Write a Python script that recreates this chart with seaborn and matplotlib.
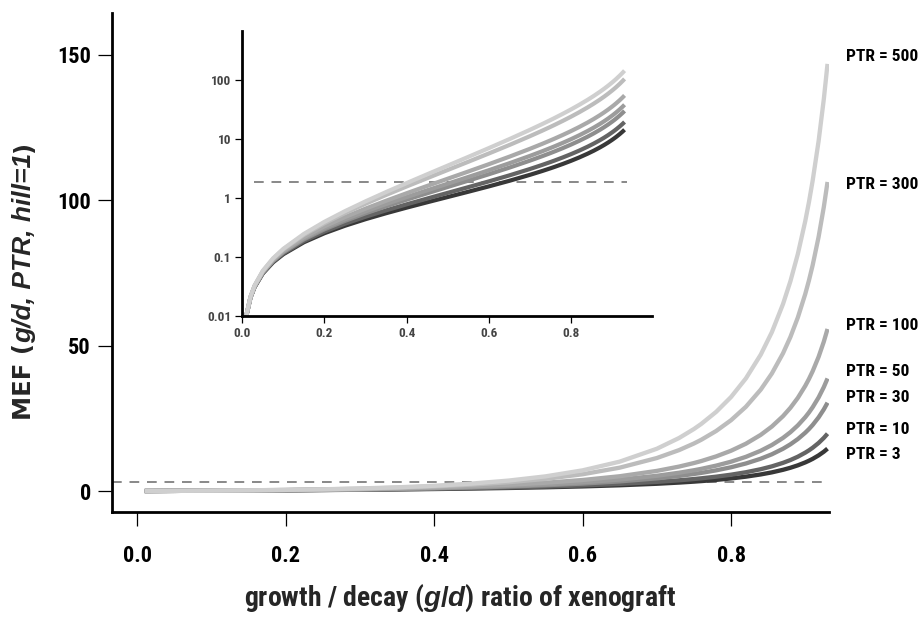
import numpy as np
import pandas as pd
import matplotlib
matplotlib.use("Agg")
import matplotlib.pyplot as plt
from matplotlib.font_manager import FontProperties
import seaborn as sns

# ---- data ----
gd_ratio = [0.01, 0.02, 0.03, 0.05, 0.075, 0.1, 0.15, 0.2, 0.25, 0.3, 0.35, 0.4, 0.45, 0.5,
            0.55, 0.6, 0.65, 0.7, 0.73, 0.75, 0.76, 0.78, 0.8, 0.82, 0.84, 0.855, 0.87, 0.88,
            0.89, 0.9, 0.905, 0.91, 0.918, 0.925, 0.93]
mef_ptr3 = [0.0101, 0.02045, 0.03102, 0.05289, 0.08168, 0.1122, 0.1791, 0.255, 0.3417, 0.4415,
            0.5575, 0.6937, 0.8557, 1.051, 1.291, 1.592, 1.981, 2.502, 2.908, 3.233, 3.416,
            3.832, 4.332, 4.944, 5.709, 6.421, 7.299, 8.006, 8.841, 9.845, 10.43, 11.07,
            12.27, 13.52, 14.58]
mef_ptr10 = [0.01014, 0.02058, 0.03131, 0.05372, 0.08362, 0.1158, 0.1878, 0.2717, 0.37, 0.486,
             0.6238, 0.7892, 0.9897, 1.236, 1.544, 1.936, 2.449, 3.144, 3.69, 4.129, 4.377,
             4.942, 5.624, 6.459, 7.506, 8.484, 9.69, 10.66, 11.81, 13.2, 14.0, 14.89,
             16.54, 18.27, 19.72]
mef_ptr30 = [0.01018, 0.02075, 0.0317, 0.05485, 0.0863, 0.1208, 0.2003, 0.2964, 0.4132, 0.5556,
             0.7305, 0.9467, 1.216, 1.557, 1.992, 2.56, 3.317, 4.361, 5.192, 5.865, 6.246,
             7.119, 8.175, 9.475, 11.11, 12.64, 14.54, 16.07, 17.88, 20.06, 21.32, 22.73,
             25.34, 28.08, 30.38]
mef_ptr50 = [0.01021, 0.02084, 0.03191, 0.05547, 0.08777, 0.1236, 0.2074, 0.3109, 0.439, 0.5982,
             0.7973, 1.048, 1.365, 1.771, 2.299, 2.995, 3.936, 5.245, 6.294, 7.148, 7.633,
             8.744, 10.09, 11.76, 13.86, 15.83, 18.27, 20.24, 22.58, 25.39, 27.02, 28.84,
             32.2, 35.75, 38.72]
mef_ptr100 = [0.01024, 0.02097, 0.03222, 0.05637, 0.08996, 0.1278, 0.2183, 0.3334, 0.48, 0.6674,
              0.908, 1.218, 1.621, 2.15, 2.85, 3.793, 5.09, 6.924, 8.411, 9.628, 10.32,
              11.92, 13.86, 16.27, 19.32, 22.19, 25.75, 28.63, 32.05, 36.17, 38.56, 41.23,
              46.17, 51.37, 55.74]
mef_ptr300 = [0.01029, 0.02119, 0.03274, 0.05792, 0.09376, 0.1352, 0.2382, 0.376, 0.5603, 0.8074,
              1.14, 1.588, 2.196, 3.027, 4.171, 5.768, 8.038, 11.35, 14.08, 16.35, 17.65,
              20.66, 24.36, 28.98, 34.87, 40.43, 47.36, 52.99, 59.69, 67.77, 72.47, 77.7,
              87.44, 97.69, 106.3]
mef_ptr500 = [0.01032, 0.0213, 0.03299, 0.05868, 0.09566, 0.1389, 0.2486, 0.3987, 0.6045, 0.887,
              1.276, 1.812, 2.555, 3.591, 5.047, 7.117, 10.11, 14.54, 18.24, 21.33, 23.11,
              27.24, 32.34, 38.73, 46.9, 54.64, 64.3, 72.16, 81.52, 92.84, 99.42, 106.8,
              120.4, 134.8, 146.9]
ptr_values = [3, 10, 30, 50, 100, 300, 500]
ptr_labels = ["PTR = 3", "PTR = 10", "PTR = 30", "PTR = 50", "PTR = 100", "PTR = 300", "PTR = 500"]
threshold_main = 3.2
threshold_inset = 1.9
main_xticks = [0.0, 0.2, 0.4, 0.6, 0.8]
main_yticks = [0, 50, 100, 150]
inset_xticks = [0.0, 0.2, 0.4, 0.6, 0.8]
inset_yticks = [0.01, 0.1, 1, 10, 100]
inset_yticklabels = ["0.01", "0.1", "1", "10", "100"]
ylabel_parts = [("MEF (", "normal"), ("g/d, PTR, hill=1", "italic"), (")", "normal")]

# ---- styling / layout ----
colors = ["#383838", "#646464", "#8e8e8e", "#9c9c9c", "#a9a9a9", "#bcbcbc", "#cfcfcf"]
label_y = [12.7, 21.3, 32.3, 41.0, 57.0, 105.3, 149.3]   # text positions of PTR labels

sns.set_theme(style="ticks")
narrow_fams = ["Nimbus Sans Narrow", "Arial Narrow", "Liberation Sans Narrow",
               "Roboto Condensed", "PT Sans Narrow", "Fira Sans Condensed", "DejaVu Sans"]
wide = ["Liberation Sans", "DejaVu Sans"]
plt.rcParams["font.family"] = wide
plt.rcParams["font.weight"] = "bold"
plt.rcParams["mathtext.fontset"] = "custom"
plt.rcParams["mathtext.it"] = "Liberation Sans:italic:bold"
plt.rcParams["mathtext.rm"] = "Liberation Sans:bold"
plt.rcParams["mathtext.bf"] = "Liberation Sans:bold"


def nfp(size, style="normal"):
    return FontProperties(family=narrow_fams, weight="bold", stretch="condensed",
                          size=size, style=style)


series = [mef_ptr3, mef_ptr10, mef_ptr30, mef_ptr50, mef_ptr100, mef_ptr300, mef_ptr500]
frames = []
for p, vals in zip(ptr_values, series):
    frames.append(pd.DataFrame({"ratio": gd_ratio, "MEF": vals, "PTR": p}))
df = pd.concat(frames, ignore_index=True)
palette = dict(zip(ptr_values, colors))

fig = plt.figure(figsize=(9.24, 6.17), dpi=100)
ax = fig.add_axes([0.1209, 0.1707, 0.7763, 0.8082])

sns.lineplot(data=df, x="ratio", y="MEF", hue="PTR", hue_order=ptr_values, palette=palette,
             linewidth=3.1, legend=False, ax=ax, sort=False, estimator=None)
for ln in ax.get_lines():
    ln.set_solid_capstyle("butt")
    ln.set_solid_joinstyle("round")
ax.hlines(threshold_main, -0.0345, gd_ratio[-1], colors="#888888", linestyles=(0, (5, 4)),
          linewidth=1.4, zorder=1)

ax.set_xlim(-0.0345, 0.932)
ax.set_ylim(-7.1, 164.4)
ax.set_xticks(main_xticks)
ax.set_xticklabels([f"{v:.1f}" for v in main_xticks])
ax.set_yticks(main_yticks)
ax.set_yticklabels([str(v) for v in main_yticks])
ax.set_xlabel("")
ax.set_ylabel("")
sns.despine(ax=ax)
for s in ["left", "bottom"]:
    ax.spines[s].set_linewidth(2.0)
    ax.spines[s].set_color("black")
ax.tick_params(axis="x", direction="out", length=10, width=0.9, pad=14, colors="black")
ax.tick_params(axis="y", direction="out", length=10, width=0.9, pad=5, colors="black")
for t in ax.get_xticklabels() + ax.get_yticklabels():
    t.set_fontproperties(nfp(16))

for lab, yv in zip(ptr_labels, label_y):
    ax.text(0.955, yv, lab, fontproperties=nfp(12.5), va="center", ha="left",
            clip_on=False, color="black")

fig.text(0.498, 1 - 598 / 617, "growth / decay ($g/d$) ratio of xenograft",
         ha="center", va="center", fontproperties=nfp(20))

# ---- y label built from upright + italic pieces along one baseline ----
W, H = fig.get_size_inches() * fig.dpi
base_x = 31.5 / W
pieces = []
for txt, sty in ylabel_parts:
    if sty == "italic":
        fp = FontProperties(family=wide, weight="bold", style="italic", size=19)
    else:
        fp = FontProperties(family=["DejaVu Sans"], weight="bold", style="normal", size=17.5)
    pieces.append(fig.text(base_x, 0.5, txt, rotation=90, rotation_mode="anchor",
                           ha="left", va="baseline", fontproperties=fp))
renderer = fig.canvas.get_renderer()
lengths = [p.get_window_extent(renderer).height for p in pieces]
total = sum(lengths)
start = (617 - 281) - total / 2.0   # pixel y (from bottom) where label begins
pos = start
for p, L in zip(pieces, lengths):
    p.set_position((base_x, pos / H))
    pos += L

# ---- inset (log scale) ----
ins = fig.add_axes([0.2622, 0.4878, 0.4431, 0.4624])
sns.lineplot(data=df, x="ratio", y="MEF", hue="PTR", hue_order=ptr_values, palette=palette,
             linewidth=3.0, legend=False, ax=ins, sort=False, estimator=None)
for ln in ins.get_lines():
    ln.set_solid_capstyle("butt")
    ln.set_solid_joinstyle("round")
ins.set_yscale("log")
ins.hlines(threshold_inset, 0.028, 0.935, colors="#888888", linestyles=(0, (5, 4)),
           linewidth=1.4, zorder=1)
ins.set_xlim(0, 0.996)
ins.set_ylim(0.01, 700)
ins.set_xticks(inset_xticks)
ins.set_xticklabels([f"{v:.1f}" for v in inset_xticks])
ins.set_yticks(inset_yticks)
ins.set_yticklabels(inset_yticklabels)
ins.minorticks_off()
ins.set_xlabel("")
ins.set_ylabel("")
ins.set_facecolor("none")
sns.despine(ax=ins)
for s in ["left", "bottom"]:
    ins.spines[s].set_linewidth(2.0)
    ins.spines[s].set_color("black")
ins.tick_params(axis="both", direction="out", length=5, width=0.9, pad=3,
                colors="black", labelcolor="#444444")
for t in ins.get_xticklabels() + ins.get_yticklabels():
    t.set_fontproperties(nfp(9.5))

fig.savefig("out.png", dpi=100)
